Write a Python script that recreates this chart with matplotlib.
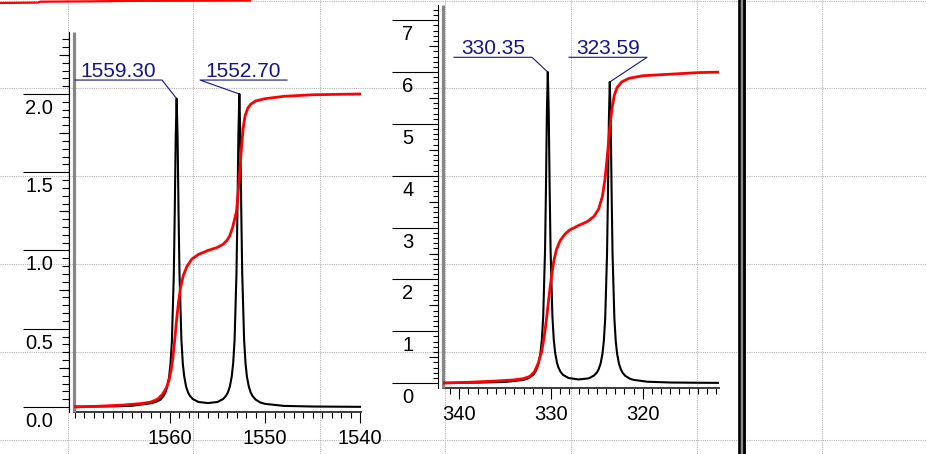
import matplotlib
matplotlib.use("Agg")
import matplotlib.pyplot as plt
from matplotlib import transforms, markers
from matplotlib.ticker import MultipleLocator, FixedLocator, NullFormatter

plt.rcParams['font.family'] = ['Liberation Sans', 'DejaVu Sans']

# ---------------- data : left panel ----------------
left_hz = [1570.1, 1566.0, 1564.0, 1562.0, 1561.5, 1561.0, 1560.7, 1560.5, 1560.3, 1560.1,
           1559.95, 1559.8, 1559.6, 1559.5, 1559.4, 1559.3, 1559.2, 1559.1, 1559.0, 1558.8,
           1558.65, 1558.5, 1558.3, 1558.1, 1557.9, 1557.6, 1557.0, 1556.0, 1555.0, 1554.4,
           1554.1, 1553.9, 1553.7, 1553.5, 1553.35, 1553.2, 1553.0, 1552.9, 1552.8, 1552.7,
           1552.6, 1552.5, 1552.4, 1552.2, 1552.05, 1551.9, 1551.7, 1551.5, 1551.3, 1551.0,
           1550.5, 1550.0, 1548.0, 1545.0, 1539.9]
left_spec = [0.002, 0.004, 0.008, 0.024, 0.032, 0.047, 0.068, 0.090, 0.127, 0.190,
             0.274, 0.422, 0.847, 1.24, 1.72, 1.97, 1.72, 1.24, 0.85, 0.43,
             0.276, 0.194, 0.129, 0.093, 0.071, 0.051, 0.032, 0.025, 0.032, 0.051,
             0.072, 0.094, 0.131, 0.195, 0.280, 0.43, 0.86, 1.26, 1.74, 2.00,
             1.74, 1.26, 0.86, 0.43, 0.278, 0.193, 0.129, 0.092, 0.069, 0.048,
             0.029, 0.020, 0.007, 0.003, 0.001]
left_int_hz = [1570.0, 1567.5, 1565.0, 1563.0, 1562.0, 1561.3, 1560.8, 1560.4, 1560.1, 1559.9,
               1559.7, 1559.5, 1559.3, 1559.1, 1558.9, 1558.6, 1558.2, 1557.7, 1557.0, 1556.0,
               1555.0, 1554.4, 1554.0, 1553.7, 1553.4, 1553.2, 1553.0, 1552.85, 1552.7, 1552.5,
               1552.3, 1552.1, 1551.8, 1551.5, 1551.0, 1550.0, 1548.0, 1545.0, 1539.9]
left_int = [0.0, 0.005, 0.012, 0.022, 0.032, 0.05, 0.08, 0.12, 0.17, 0.23,
            0.31, 0.43, 0.56, 0.67, 0.76, 0.84, 0.90, 0.945, 0.975, 1.00,
            1.02, 1.04, 1.065, 1.095, 1.15, 1.20, 1.25, 1.35, 1.47, 1.64,
            1.78, 1.86, 1.91, 1.935, 1.955, 1.97, 1.985, 1.995, 2.00]
left_peak_pos = [1559.30, 1552.70]
left_peak_h = [1.97, 2.00]
left_peak_labels = ['1559.30', '1552.70']
left_yticks = [0.0, 0.5, 1.0, 1.5, 2.0]
left_yticklabels = ['0.0', '0.5', '1.0', '1.5', '2.0']
left_ymedium = [0.25, 0.75, 1.25, 1.75, 2.25]
left_xticks = [1560, 1550, 1540]
left_xticklabels = ['1560', '1550', '1540']

# ---------------- data : right panel ----------------
right_x = [341.8, 338.0, 335.0, 333.0, 332.55, 332.0, 331.75, 331.5, 331.35, 331.15,
           331.0, 330.85, 330.65, 330.55, 330.45, 330.35, 330.25, 330.15, 330.05, 329.85,
           329.7, 329.55, 329.35, 329.2, 328.95, 328.7, 328.1, 327.0, 326.0, 325.79,
           325.3, 324.99, 324.8, 324.59, 324.39, 324.24, 324.09, 323.89, 323.79, 323.69,
           323.59, 323.49, 323.39, 323.29, 323.09, 322.94, 322.79, 322.59, 322.4, 322.19,
           321.9, 321.39, 321.0, 319.5, 317.0, 314.0, 311.7]
right_spec = [0.004, 0.009, 0.022, 0.061, 0.087, 0.150, 0.205, 0.297, 0.385, 0.58,
              0.83, 1.29, 2.58, 3.77, 5.23, 6.00, 5.23, 3.77, 2.58, 1.29,
              0.84, 0.584, 0.392, 0.304, 0.214, 0.160, 0.098, 0.070, 0.088, 0.099,
              0.147, 0.206, 0.268, 0.379, 0.565, 0.81, 1.25, 2.49, 3.65, 5.06,
              5.81, 5.06, 3.65, 2.49, 1.245, 0.807, 0.562, 0.374, 0.271, 0.198,
              0.139, 0.084, 0.062, 0.026, 0.011, 0.006, 0.004]
right_int_x = [341.8, 339.0, 337.8, 336.0, 334.1, 333.0, 332.3, 331.8, 331.4, 331.0,
               330.7, 330.45, 330.2, 329.95, 329.7, 329.4, 329.0, 328.5, 328.0, 327.0,
               326.0, 325.3, 324.8, 324.4, 324.1, 323.85, 323.6, 323.35, 323.1, 322.8,
               322.3, 321.5, 320.0, 317.0, 314.0, 311.7]
right_int = [0.0, 0.015, 0.025, 0.04, 0.06, 0.085, 0.13, 0.22, 0.38, 0.62,
             0.95, 1.3, 1.7, 2.05, 2.35, 2.58, 2.75, 2.87, 2.95, 3.04,
             3.12, 3.22, 3.36, 3.6, 3.95, 4.4, 4.9, 5.3, 5.55, 5.7,
             5.81, 5.88, 5.93, 5.96, 5.99, 6.0]
right_peak_pos = [330.35, 323.59]
right_peak_h = [6.00, 5.81]
right_peak_labels = ['330.35', '323.59']
right_yticks = [0, 1, 2, 3, 4, 5, 6, 7]
right_yticklabels = ['0', '1', '2', '3', '4', '5', '6', '7']
right_ymedium = [0.5, 1.5, 2.5, 3.5, 4.5, 5.5, 6.5]
right_xticks = [340, 330, 320]
right_xticklabels = ['340', '330', '320']

# ---------------- layout ----------------
W, H = 928, 454
fig = plt.figure(figsize=(W / 100, H / 100), dpi=100)
NAVY = '#14148c'
GRID = '#b4b4b4'


def px_axes(l, t, r, b):
    return fig.add_axes([l / W, 1 - b / H, (r - l) / W, (b - t) / H])


# background: dotted page grid, separator, stray red trace at top
bg = fig.add_axes([0, 0, 1, 1])
bg.set_xlim(0, W)
bg.set_ylim(H, 0)
bg.axis('off')
bg.set_zorder(0)
for gx in [68, 193.5, 320, 445, 571, 697, 822]:
    bg.axvline(gx, color=GRID, lw=0.8, ls=(0, (1, 1)))
for gy in [0.5, 88, 176, 264, 352, 440]:
    bg.axhline(gy, color=GRID, lw=0.8, ls=(0, (1, 1)))
bg.plot([0, 38, 40, 97, 127, 250], [3, 2.6, 1.7, 1.3, 0.9, 0.6], color='red', lw=1.6)
bg.axvline(741.8, color='#8c8c8c', lw=5.6)
bg.axvline(739.4, color='black', lw=1.8)
bg.axvline(744.3, color='black', lw=2.0)


def style_panel(ax, xlim, ylim, ymajor, ylabels, ymed, yminor, minor_len, med_len,
                xmajor, xlabels):
    ax.set_zorder(2)
    ax.patch.set_alpha(0)
    ax.set_xlim(*xlim)
    ax.set_ylim(*ylim)
    for s in ['top', 'right']:
        ax.spines[s].set_visible(False)
    ax.spines['left'].set_position(('outward', 5 * 0.72))
    ax.spines['left'].set_linewidth(0.8)
    ax.spines['left'].set_color('black')
    ax.spines['bottom'].set_linewidth(1.4)
    ax.spines['bottom'].set_color('#3a3a3a')
    # grey data frame line
    ax.plot([0, 0], [0, 1], transform=ax.transAxes, color='#868686', lw=2.3,
            clip_on=False, solid_capstyle='butt', zorder=3)
    # y ticks
    ax.yaxis.set_major_locator(FixedLocator(ymajor))
    ax.yaxis.set_minor_locator(MultipleLocator(yminor))
    ax.yaxis.set_major_formatter(NullFormatter())
    ax.tick_params(axis='y', which='major', direction='out', length=46 * 0.72,
                   width=0.8, color='black')
    ax.tick_params(axis='y', which='minor', direction='out', length=minor_len * 0.72,
                   width=0.8, color='black')
    ytr = transforms.blended_transform_factory(ax.transAxes, ax.transData)
    medtr = ytr + transforms.ScaledTranslation(-5 / 100, 0, fig.dpi_scale_trans)
    ax.plot([0] * len(ymed), ymed, ls='none', marker=markers.TICKLEFT,
            ms=med_len * 0.72, mew=0.8, color='black', transform=medtr, clip_on=False)
    labtr = ytr + transforms.ScaledTranslation(-35 / 100, -14.5 / 100, fig.dpi_scale_trans)
    for v, s in zip(ymajor, ylabels):
        ax.text(0, v, s, transform=labtr, ha='center', va='center', fontsize=14.5,
                color='black')
    # x ticks
    ax.xaxis.set_major_locator(FixedLocator(xmajor))
    ax.xaxis.set_minor_locator(MultipleLocator(1))
    ax.xaxis.set_major_formatter(NullFormatter())
    ax.tick_params(axis='x', which='major', direction='out', length=11 * 0.72,
                   width=0.8, color='black')
    ax.tick_params(axis='x', which='minor', direction='out', length=6 * 0.72,
                   width=0.8, color='black')
    xtr = transforms.blended_transform_factory(ax.transData, ax.transAxes)
    xlabtr = xtr + transforms.ScaledTranslation(0, -27 / 100, fig.dpi_scale_trans)
    for v, s in zip(xmajor, xlabels):
        ax.text(v, 0, s, transform=xlabtr, ha='center', va='center', fontsize=14.5,
                color='black')


def peak_label(ax, pos, h, text, x0, x1, yu, attach):
    xs = [x0, x1, pos] if attach == 'right' else [x1, x0, pos]
    ax.plot(xs, [yu, yu, h], color=NAVY, lw=0.8, zorder=4, clip_on=False)
    ttr = ax.transData + transforms.ScaledTranslation(0, 3 / 100, fig.dpi_scale_trans)
    ax.text((x0 + x1) / 2, yu, text, transform=ttr, ha='center', va='baseline',
            fontsize=15, color=NAVY)


# ---- left panel ----
axL = px_axes(74, 32, 361, 412)
style_panel(axL, (1570.105, 1539.895), (-0.032, 2.396), left_yticks, left_yticklabels,
            left_ymedium, 0.05, 7, 10, left_xticks, left_xticklabels)
axL.plot(left_hz, left_spec, color='black', lw=1.5, zorder=5)
axL.plot(left_int_hz, left_int, color='red', lw=2.0, zorder=6)
left_label_x = [(1570.0, 1560.84), (1556.84, 1547.68)]
left_attach = ['right', 'left']
for p, h, t, (x0, x1), a in zip(left_peak_pos, left_peak_h, left_peak_labels,
                                left_label_x, left_attach):
    peak_label(axL, p, h, t, x0, x1, 2.089, a)

# ---- right panel ----
axR = px_axes(443, 5, 719, 388)
style_panel(axR, (341.78, 311.68), (-0.095, 7.295), right_yticks, right_yticklabels,
            right_ymedium, 0.1, 5, 9, right_xticks, right_xticklabels)
axR.plot(right_x, right_spec, color='black', lw=1.5, zorder=5)
axR.plot(right_int_x, right_int, color='red', lw=2.0, zorder=6)
right_label_x = [(340.58, 332.07), (328.04, 319.53)]
right_attach = ['right', 'right']
for p, h, t, (x0, x1), a in zip(right_peak_pos, right_peak_h, right_peak_labels,
                                right_label_x, right_attach):
    peak_label(axR, p, h, t, x0, x1, 6.286, a)

fig.savefig('out.png', dpi=100)
